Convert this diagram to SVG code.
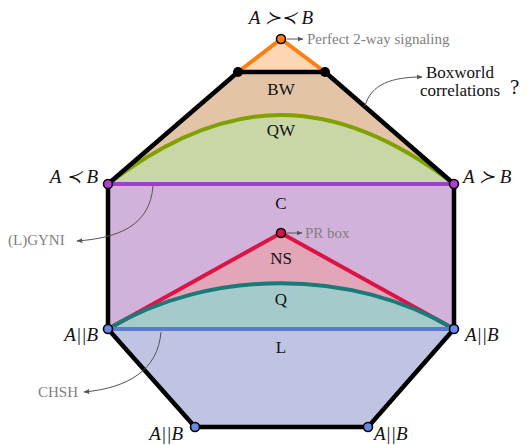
<svg xmlns="http://www.w3.org/2000/svg" width="528" height="445" viewBox="0 0 528 445">
<style>
.lbl{font-family:"Liberation Serif","DejaVu Serif",serif;font-size:17px;fill:#111}
.it{font-style:italic;font-size:19px}
.gray{font-family:"Liberation Serif","DejaVu Serif",serif;font-size:15px;fill:#808080}
.ann{fill:none;stroke:#555;stroke-width:1}
.dot{stroke:#000;stroke-width:1.6}
</style>
<defs>
<marker id="ah" viewBox="0 0 10 10" refX="9" refY="5" markerWidth="6" markerHeight="6" orient="auto"><path d="M0,1 L10,5 L0,9 Z" fill="#555"/></marker>
</defs>
<g id="regions">
<polygon id="pw" points="281,39 238,72 325,72" fill="#fdd6b3"/>
<polygon id="bw" points="238,72 325,72 454,184 108,184" fill="#e4c4a7"/>
<path id="qw" d="M108,184 C228,92 334,92 454,184 Z" fill="#c9d6a6"/>
<rect id="c" x="108" y="184" width="346" height="145" fill="#d2b1db"/>
<polygon id="ns" points="108,329 281,233 454,329" fill="#e3a5b8"/>
<path id="q" d="M108,329 C210,268 352,268 454,329 Z" fill="#a5cacb"/>
<polygon id="l" points="108,329 454,329 368,427 195,427" fill="#bfc4e3"/>
</g>
<g id="connectors">
<path d="M238,72 L281,39 L325,72" fill="none" stroke="#ff7f0e" stroke-width="4"/>
<path d="M108,184 C228,92 334,92 454,184" fill="none" stroke="#80a000" stroke-width="4"/>
<line x1="108" y1="184" x2="454" y2="184" stroke="#a040c0" stroke-width="4"/>
<path d="M108,329 L281,233 L454,329" fill="none" stroke="#dc1446" stroke-width="4"/>
<path d="M108,329 C210,268 352,268 454,329" fill="none" stroke="#1a7a7a" stroke-width="4"/>
<line x1="108" y1="329" x2="454" y2="329" stroke="#5a78d6" stroke-width="4"/>
<polygon points="238,72 325,72 454,184 454,329 368,427 195,427 108,329 108,184" fill="none" stroke="#000" stroke-width="4.5" stroke-linejoin="round"/>
<line class="ann" x1="287" y1="39" x2="303" y2="39" marker-end="url(#ah)"/>
<line class="ann" x1="287" y1="233" x2="302" y2="233" marker-end="url(#ah)"/>
<path class="ann" d="M365,106 C371,84 392,77 422,77" stroke="#222" marker-end="url(#ah)"/>
<path class="ann" d="M153,186 C150,226 118,238 77,241" marker-end="url(#ah)"/>
<path class="ann" d="M161,332 C158,370 128,388 84,392" marker-end="url(#ah)"/>
</g>
<g id="dots">
<circle cx="238" cy="72" r="5" fill="#000"/>
<circle cx="325" cy="72" r="5" fill="#000"/>
<circle class="dot" cx="281" cy="39" r="4.5" fill="#ff7f0e"/>
<circle class="dot" cx="108" cy="184" r="4.5" fill="#b040d0"/>
<circle class="dot" cx="454" cy="184" r="4.5" fill="#b040d0"/>
<circle class="dot" cx="281" cy="233" r="4.5" fill="#dc1446"/>
<circle class="dot" cx="108" cy="329" r="4.5" fill="#6a88e6"/>
<circle class="dot" cx="454" cy="329" r="4.5" fill="#6a88e6"/>
<circle class="dot" cx="195" cy="427" r="4.5" fill="#6a88e6"/>
<circle class="dot" cx="368" cy="427" r="4.5" fill="#6a88e6"/>
</g>
<g id="labels">
<text class="lbl it" x="281" y="24" text-anchor="middle">A ≻≺ B</text>
<text class="gray" x="307" y="44">Perfect 2-way signaling</text>
<text class="lbl" x="281" y="95" text-anchor="middle">BW</text>
<text class="lbl" x="281" y="136" text-anchor="middle">QW</text>
<text class="lbl" x="281" y="209" text-anchor="middle">C</text>
<text class="lbl" x="281" y="264" text-anchor="middle">NS</text>
<text class="lbl" x="281" y="305" text-anchor="middle">Q</text>
<text class="lbl" x="281" y="353" text-anchor="middle">L</text>
<text class="gray" x="305" y="238">PR box</text>
<text class="lbl" x="460" y="78" text-anchor="middle">Boxworld</text>
<text class="lbl" x="460" y="96" text-anchor="middle">correlations</text>
<text class="lbl" x="510" y="94" style="font-size:21px">?</text>
<text class="lbl it" x="98" y="183" text-anchor="end">A ≺ B</text>
<text class="lbl it" x="463" y="183">A ≻ B</text>
<text class="gray" x="8" y="245">(L)GYNI</text>
<text class="lbl it" x="98" y="341" text-anchor="end">A||B</text>
<text class="lbl it" x="465" y="341">A||B</text>
<text class="gray" x="38" y="397">CHSH</text>
<text class="lbl it" x="183" y="440" text-anchor="end">A||B</text>
<text class="lbl it" x="374" y="440">A||B</text>
</g>
</svg>
